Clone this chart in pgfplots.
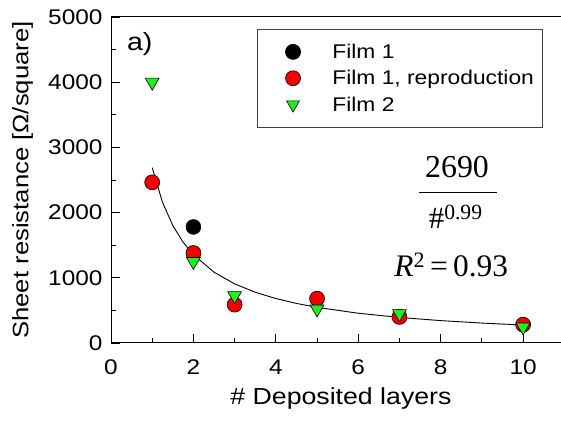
\documentclass[border=0pt]{standalone}
\usepackage{pgfplots}
\pgfplotsset{compat=1.18}
\usepackage{fontspec}
\setmainfont[FakeStretch=1.15]{Liberation Sans}
\newfontfamily\tms{Liberation Serif}
\definecolor{fgreen}{RGB}{30,240,30}
\definecolor{fred}{RGB}{245,0,0}
\begin{document}
\begin{tikzpicture}
\begin{axis}[
  scale only axis, width=450bp, height=326bp,
  xmin=0, xmax=10.92, ymin=0, ymax=5000,
  axis lines*=left, axis line style={-, line width=1pt},
  xtick={0,2,...,10}, minor xtick={1,3,...,9},
  ytick={0,1000,...,5000}, minor ytick={500,1500,...,4500},
  tick align=inside, major tick length=9bp, minor tick length=5bp,
  tick style={black, line width=0.9pt},
  tick label style={font=\fontsize{21.3}{24}\selectfont},
  x tick label style={yshift=-13bp},
  y tick label style={xshift=-5bp, /pgf/number format/1000 sep={}},
  /pgf/number format/assume math mode=true,
  scaled y ticks=false,
  xlabel={\# Deposited layers}, ylabel={Sheet resistance [Ω/square]},
  xlabel style={font=\fontsize{23.3}{27}\selectfont, at={(axis description cs:0.511,-0.169)}, anchor=center},
  ylabel style={font=\fontsize{22.4}{26}\selectfont, at={(axis description cs:-0.22,0.5)}, anchor=north, inner sep=0pt},
  legend cell align=left,
  legend style={at={(0.325,0.963)}, anchor=north west, draw=black!75, line width=0.8pt,
    font=\fontsize{19.9}{24}\selectfont, row sep=6.5bp, inner xsep=6bp, inner ysep=12.5bp},
  legend image code/.code={\path (0bp,0bp) (66bp,0bp); \draw[#1, mark size=7.5bp] plot coordinates {(29bp,0bp)};},
]
\addplot[black, line width=0.9pt, forget plot] coordinates {
(1,2690) (1.25,2156.8) (1.5,1800.7) (1.75,1545.5) (2,1354.4) (2.5,1085.9) (3,906.6) (3.5,778.3)
(4,681.9) (4.5,606.8) (5,546.7) (6,456.4) (7,391.9) (8,343.3) (9,305.6) (10,275.3)};
\addplot[only marks, mark=*, mark size=7.5bp, mark options={fill=black, draw=black}] coordinates {(2,1780)};
\addlegendentry{Film 1}
\addplot[only marks, mark=*, mark size=7.5bp, mark options={fill=fred, draw=black, line width=0.6pt}] coordinates {
(1,2464) (2,1380) (3,588) (5,680) (7,400) (10,281)};
\addlegendentry{Film 1, reproduction}
\addplot[only marks, mark=triangle*, mark size=8bp, mark options={rotate=180, fill=fgreen, draw=black, line width=0.6pt}] coordinates {
(1,4000) (2,1250) (3,726) (5,521) (7,450) (10,245)};
\addlegendentry{Film 2}
\draw[line width=1pt] (rel axis cs:0,1) -- (rel axis cs:1,1);
\node[font=\fontsize{25}{28}\selectfont] at (rel axis cs:0.064,0.917) {a)};
\node[font=\tms\fontsize{32}{36}\selectfont] at (rel axis cs:0.769,0.540) {2690};
\draw[line width=1pt] (rel axis cs:0.684,0.463) -- (rel axis cs:0.858,0.463);
\node[font=\tms\fontsize{31}{36}\selectfont, inner sep=0pt] at (rel axis cs:0.766,0.387) {\#\textsuperscript{0.99}};
\node[font=\tms\fontsize{31.5}{36}\selectfont] at (rel axis cs:0.756,0.239) {\textit{R}\textsuperscript{2}\,=\,0.93};
\end{axis}
\pgfresetboundingbox
\path ([shift={(-111bp,-78bp)}]current axis.south west) rectangle ([shift={(0bp,17bp)}]current axis.north east);
\end{tikzpicture}
\end{document}
